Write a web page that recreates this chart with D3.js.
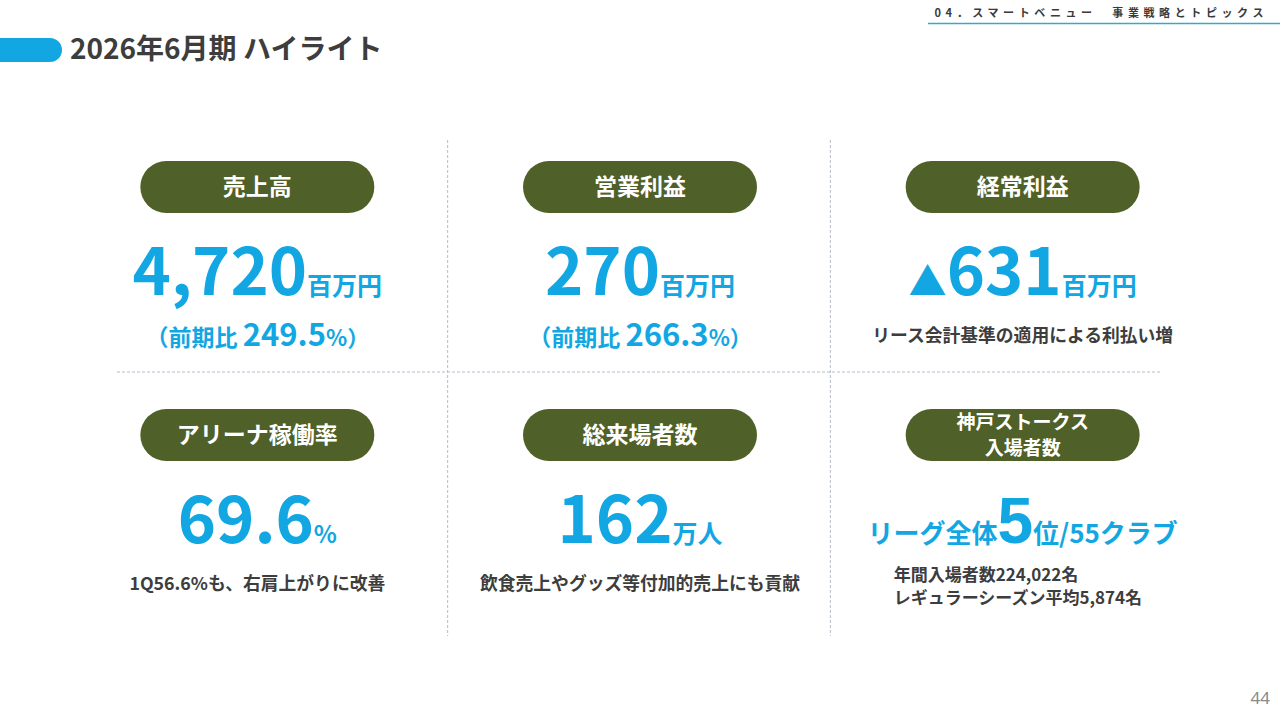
<!DOCTYPE html>
<html>
<head>
<meta charset="utf-8">
<script src="https://cdn.jsdelivr.net/npm/d3@7/dist/d3.min.js"></script>
<style>
  html, body { margin: 0; padding: 0; background: #fff; }
  svg { display: block; font-family: "Noto Sans CJK JP", "Noto Sans", sans-serif; }
</style>
</head>
<body>
<svg id="slide" width="1280" height="720"></svg>
<script>
// KPI cards, row by row
const titles = ["売上高", "営業利益", "経常利益", "アリーナ稼働率", "総来場者数", "神戸ストークス\n入場者数"];
const prefixes = ["", "", "▲", "", "", "リーグ全体"];
const values = ["4,720", "270", "631", "69.6", "162", "5"];
const units = ["百万円", "百万円", "百万円", "%", "万人", "位/55クラブ"];
const growth = ["249.5", "266.3", null, null, null, null];
const notes = [
    "",
    "",
    "リース会計基準の適用による利払い増",
    "1Q56.6%も、右肩上がりに改善",
    "飲食売上やグッズ等付加的売上にも貢献",
    "年間入場者数224,022名\nレギュラーシーズン平均5,874名"
];

const blue = "#12a7e2",
    olive = "#4f6028",
    ink = "#3d3d3d";

const svg = d3.select("#slide");

// header
svg.append("text")
    .attr("x", 1268)
    .attr("y", 17)
    .attr("text-anchor", "end")
    .attr("font-size", 11)
    .attr("font-weight", 700)
    .attr("letter-spacing", 4.6)
    .attr("fill", "#3a3a3a")
    .text("04．スマートベニュー　事業戦略とトピックス");

svg.append("line")
    .attr("x1", 928).attr("x2", 1280)
    .attr("y1", 23.5).attr("y2", 23.5)
    .attr("stroke", "#3ba6c6")
    .attr("stroke-width", 1.5);

svg.append("rect")
    .attr("x", -20).attr("y", 38)
    .attr("width", 82).attr("height", 24)
    .attr("rx", 12)
    .attr("fill", blue);

svg.append("text")
    .attr("x", 70)
    .attr("y", 59)
    .attr("font-size", 28)
    .attr("font-weight", 700)
    .attr("fill", ink)
    .text("2026年6月期 ハイライト");

svg.append("text")
    .attr("x", 1270)
    .attr("y", 704)
    .attr("text-anchor", "end")
    .attr("font-family", "Noto Sans, sans-serif")
    .attr("font-size", 17)
    .attr("fill", "#8a8a8a")
    .text("44");

// grid
const col = d3.scaleBand().domain([0, 1, 2]).range([66, 1214]);
const row = d3.scaleBand().domain([0, 1]).range([63, 559]);
const cx = i => col(i % 3) + col.bandwidth() / 2;
const cy = i => row(Math.floor(i / 3)) + row.bandwidth() / 2;

const grid = svg.append("g")
    .attr("stroke", "#b4bccb")
    .attr("stroke-width", 1)
    .attr("stroke-dasharray", "3,2");

[1, 2].forEach(k => {
    grid.append("line")
        .attr("x1", col(k) - 1).attr("x2", col(k) - 1)
        .attr("y1", 140).attr("y2", 636);
});
grid.append("line")
    .attr("x1", 117).attr("x2", 1162)
    .attr("y1", 372).attr("y2", 372);

// cards
const cards = svg.selectAll(".card")
    .data(titles.map((t, i) => i))
    .enter().append("g")
    .attr("class", "card")
    .attr("transform", i => "translate(" + cx(i) + "," + cy(i) + ")");

cards.append("rect")
    .attr("x", -117).attr("y", -26)
    .attr("width", 234).attr("height", 52)
    .attr("rx", 26)
    .attr("fill", olive);

cards.each(function (i) {
    const g = d3.select(this);
    const lines = titles[i].split("\n");
    lines.forEach((l, k) => {
        g.append("text")
            .attr("text-anchor", "middle")
            .attr("fill", "#fff")
            .attr("font-weight", 700)
            .attr("font-size", lines.length > 1 ? 19 : 23)
            .attr("y", lines.length > 1 ? -6 + k * 26 : 8)
            .text(l);
    });

    // main figure
    const big = g.append("text")
        .attr("text-anchor", "middle")
        .attr("y", 108)
        .attr("fill", blue)
        .attr("font-weight", 700);
    if (prefixes[i]) {
        big.append("tspan")
            .attr("font-size", i === 2 ? 38 : 26)
            .text(prefixes[i]);
    }
    big.append("tspan")
        .attr("font-size", i === 5 ? 64 : 65)
        .attr("font-family", i === 5 ? "Liberation Sans, Arial, sans-serif" : null)
        .text(values[i]);
    big.append("tspan")
        .attr("font-size", i === 5 ? 26 : (units[i] === "%" ? 24 : 25))
        .text(units[i]);

    // year-on-year ratio
    if (growth[i]) {
        const s = g.append("text")
            .attr("text-anchor", "middle")
            .attr("y", 159)
            .attr("fill", blue)
            .attr("font-weight", 700);
        s.append("tspan").attr("font-size", 23).text("（前期比 ");
        s.append("tspan").attr("font-size", 31).text(growth[i]);
        s.append("tspan").attr("font-size", 22).text("%）");
    }

    // comment lines
    if (notes[i]) {
        const nl = notes[i].split("\n");
        nl.forEach((l, k) => {
            g.append("text")
                .attr("text-anchor", nl.length > 1 ? "start" : "middle")
                .attr("fill", ink)
                .attr("font-weight", 700)
                .attr("font-size", nl.length > 1 ? 17 : 17.8)
                .attr("x", nl.length > 1 ? -129 : 0)
                .attr("y", nl.length > 1 ? 146 + k * 22.5 : 155)
                .text(l);
        });
    }
});
</script>
</body>
</html>
